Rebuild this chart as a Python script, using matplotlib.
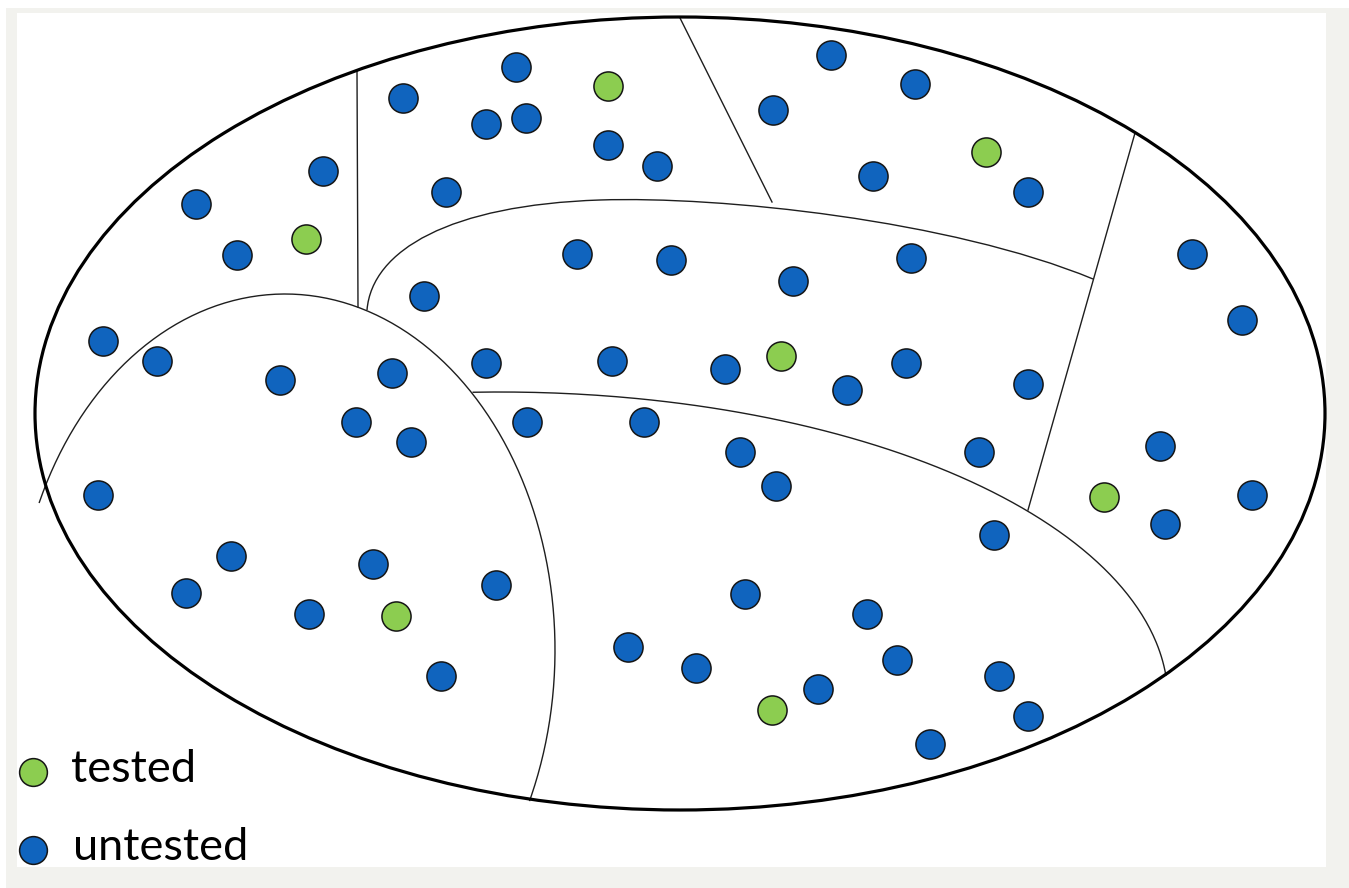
import numpy as np
import matplotlib
matplotlib.use("Agg")
import matplotlib.pyplot as plt
from matplotlib.patches import Ellipse, Rectangle, PathPatch
from matplotlib.path import Path

# dot positions (pixel coords, y downwards)
untested_x = [516, 403, 486, 526, 608, 657, 446, 323, 196, 237,
              831, 915, 773, 873, 1028, 577, 671, 793, 911, 424,
              1192, 1242, 103, 157, 280, 392, 356, 411, 486, 612,
              725, 847, 906, 1028, 527, 644, 740, 776, 979, 1160,
              1252, 1165, 98, 231, 186, 373, 309, 496, 441, 994,
              745, 867, 897, 628, 696, 818, 999, 1028, 930]
untested_y = [67, 98, 124, 118, 145, 166, 192, 171, 204, 255,
              55, 84, 110, 176, 192, 254, 260, 281, 258, 296,
              254, 320, 341, 361, 380, 373, 422, 442, 363, 361,
              369, 390, 363, 384, 422, 422, 452, 486, 452, 446,
              495, 524, 495, 556, 593, 564, 614, 585, 676, 535,
              594, 614, 660, 647, 668, 689, 676, 716, 744]
tested_x = [608, 306, 986, 781, 1104, 396, 772]
tested_y = [86, 239, 152, 356, 497, 616, 710]

legend_labels = ["tested", "untested"]

# region boundaries
outer = dict(center=(680, 413.5), width=1290, height=793)
# left lens and lower band edge are elliptical arcs: (cx, cy, a, b, t_start, t_end)
lens_arc = (285, 650, 270, 356, 155.5, -25)
lower_arc = (500, 700, 668, 308, 92.3, 4.6)
# upper band edge: two cubic bezier pieces
upper_ctrl = [(367, 310), (372, 250), (450, 205), (600, 200),
              (720, 196), (950, 220), (1093, 279)]
straight_lines = [[(357, 71), (358, 307)],
                  [(680, 18), (772, 202)],
                  [(1135, 133), (1028, 510)]]

BLUE = "#1064be"
GREEN = "#8ccd50"
LINE = "#1e1e1e"


def arc_points(cx, cy, a, b, t0, t1, n=200):
    t = np.radians(np.linspace(t0, t1, n))
    return cx + a * np.cos(t), cy - b * np.sin(t)


fig = plt.figure(figsize=(13.49, 8.88), dpi=100)
fig.patch.set_facecolor("white")
ax = fig.add_axes([0, 0, 1, 1])
ax.set_xlim(0, 1349)
ax.set_ylim(888, 0)
ax.axis("off")

# grey frame + white slide
ax.add_patch(Rectangle((6, 8), 1343, 880, facecolor="#f2f2ee", edgecolor="none", zorder=0))
ax.add_patch(Rectangle((17, 13), 1309, 854, facecolor="white", edgecolor="none", zorder=0))

ax.add_patch(Ellipse(outer["center"], outer["width"], outer["height"], facecolor="none",
                     edgecolor="black", linewidth=2.3, zorder=2))

for arc in (lens_arc, lower_arc):
    xs, ys = arc_points(*arc)
    ax.plot(xs, ys, color=LINE, linewidth=1.0, zorder=1)

codes = [Path.MOVETO] + [Path.CURVE4] * (len(upper_ctrl) - 1)
ax.add_patch(PathPatch(Path(upper_ctrl, codes), facecolor="none", edgecolor=LINE,
                       linewidth=1.0, zorder=1))

for seg in straight_lines:
    xs, ys = zip(*seg)
    ax.plot(xs, ys, color=LINE, linewidth=1.0, zorder=1)

ax.scatter(untested_x, untested_y, s=440, c=BLUE, edgecolors="#151515",
           linewidths=1.1, zorder=3)
ax.scatter(tested_x, tested_y, s=440, c=GREEN, edgecolors="#151515",
           linewidths=1.1, zorder=3)

# legend
ax.scatter([33], [772], s=400, c=GREEN, edgecolors="#151515", linewidths=1.1, zorder=3)
ax.scatter([33], [850], s=400, c=BLUE, edgecolors="#151515", linewidths=1.1, zorder=3)
ax.text(71, 782, legend_labels[0], fontsize=32.5, family="Lato", va="baseline", ha="left")
ax.text(73, 860, legend_labels[1], fontsize=32.5, family="Lato", va="baseline", ha="left")

fig.savefig("out.png", dpi=100, facecolor="white")
